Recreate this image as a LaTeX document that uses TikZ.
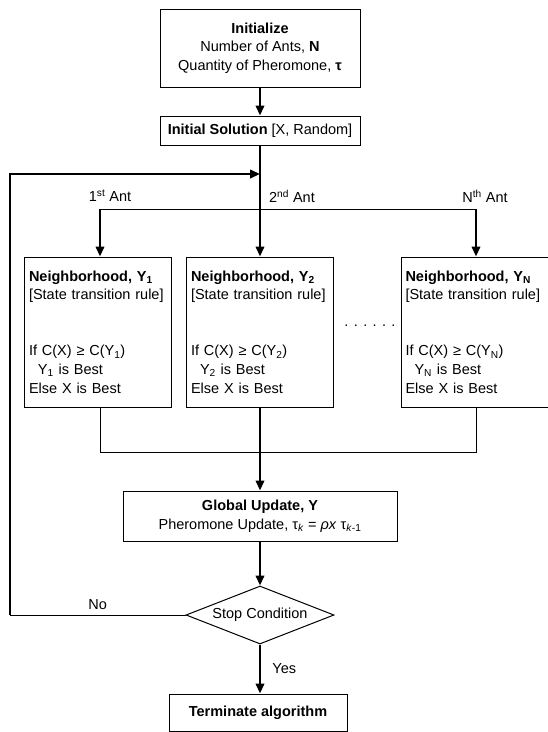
\documentclass[tikz,border=0pt]{standalone}
\usepackage{fontspec}
\setmainfont{Liberation Sans}
\usetikzlibrary{arrows.meta}
\usetikzlibrary{shapes.geometric}
\tikzset{box/.style={draw,line width=1pt,inner sep=0pt,align=center},
  nbox/.style={draw,line width=1pt,minimum width=147pt,minimum height=150pt,
               text width=138pt,inner xsep=4.5pt,inner ysep=0pt,align=left},
  thk/.style={line width=2.2pt,-{Triangle[length=10pt,width=8.5pt]}},
  thn/.style={line width=1pt}}

\begin{document}
\begin{tikzpicture}[x=1pt,y=-1pt,font=\fontsize{14.5}{18.7}\selectfont]
      \useasboundingbox (0,0) rectangle (547,732);

      \node[box,minimum width=200pt,minimum height=78pt] (init) at (260,48)
        {\textbf{Initialize}\\Number of Ants, \textbf{N}\\Quantity of Pheromone, \textbf{τ}};
      \node[box,minimum width=200pt,minimum height=29pt] (sol) at (260,130.5)
        {\textbf{Initial Solution} [X, Random]};

      \node[nbox] (nb1) at (98,332) {\textbf{Neighborhood, Y\textsubscript{1}}\\{[}State transition rule{]}\\[37.4pt]If C(X) ≥ C(Y\textsubscript{1})\\\hspace*{9pt}Y\textsubscript{1} is Best\\Else X is Best};
      \node[nbox] (nb2) at (260,332) {\textbf{Neighborhood, Y\textsubscript{2}}\\{[}State transition rule{]}\\[37.4pt]If C(X) ≥ C(Y\textsubscript{2})\\\hspace*{9pt}Y\textsubscript{2} is Best\\Else X is Best};
      \node[nbox,minimum width=143pt] (nbN) at (474.5,332) {\textbf{Neighborhood, Y\textsubscript{N}}\\{[}State transition rule{]}\\[37.4pt]If C(X) ≥ C(Y\textsubscript{N})\\\hspace*{9pt}Y\textsubscript{N} is Best\\Else X is Best};
      \node (dots) at (370,326) {. . . . . .};

      \node (ant1) at (110,196) {1\textsuperscript{st} Ant};
      \node (ant2) at (292,196) {2\textsuperscript{nd} Ant};
      \node (antN) at (485,196) {N\textsuperscript{th} Ant};

      \node[box,minimum width=274pt,minimum height=50pt] (glob) at (260,516)
        {\textbf{Global Update, Y}\\Pheromone Update, τ\textsubscript{\textit{k}} = \textit{ρx} τ\textsubscript{\textit{k}-1}};
      \node[draw,diamond,aspect=2.55,line width=1pt,minimum width=148pt,minimum height=58pt,inner sep=0pt] (stop) at (260,615) {Stop Condition};
      \node[box,minimum width=178pt,minimum height=37pt] (term) at (258,712.5) {\textbf{Terminate algorithm}};

      \coordinate (join) at (260,174);
      \coordinate (b1) at (100,209);
      \coordinate (bN) at (476,209);
      \coordinate (m1) at (100,452);
      \coordinate (mN) at (476,452);
      \coordinate (lc) at (10,615);
      \coordinate (tc) at (10,174);

      \draw[thk] (init.south) -- (sol.north);
      \draw[thk] (sol.south) -- (nb2.north);
      \draw[thn] (b1) -- (bN);
      \draw[thk] (b1) -- (b1 |- nb1.north);
      \draw[thk] (bN) -- (bN |- nbN.north);

      \draw[thn] (b1 |- nb1.south) -- (m1) -- (mN) -- (bN |- nbN.south);
      \draw[thk] (nb2.south) -- (glob.north);
      \draw[thk] (glob.south) -- (stop.north);
      \draw[thk] (stop.south) -- (stop.south |- term.north) node[midway,right=8pt] (yes) {Yes};

      \draw[thn] (stop.west) -- (lc) node[midway,above=2pt] (no) {No};
      \draw[thk] (lc) -- (tc) -- (join);
    \end{tikzpicture}
\end{document}
